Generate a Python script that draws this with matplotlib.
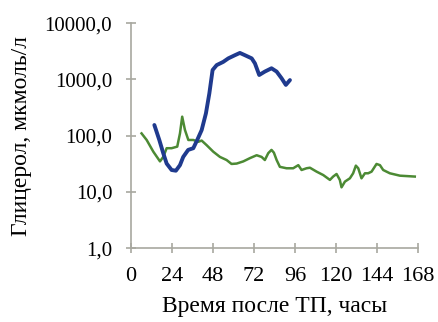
import matplotlib.pyplot as plt
from matplotlib.ticker import FixedLocator, NullLocator

# Глицерол в плазме, мкмоль/л, по времени после ТП (часы)
blue_hours = [13.7, 16.6, 18.9, 20.9, 23.8, 26.3, 28.7, 30.6, 33.5, 36.5, 38.8,
              41.4, 43.9, 45.9, 47.8, 50.2, 54.0, 57.0, 60.9, 63.8, 66.7, 70.7,
              72.6, 75.1, 78.4, 82.3, 85.3, 88.2, 90.7, 93.1]
blue_values = [155, 84, 49, 32, 24.6, 23.9, 30, 42, 56, 60, 84,
               126, 250, 565, 1470, 1800, 2050, 2370, 2700, 2960, 2700, 2370,
               1930, 1200, 1380, 1580, 1380, 1050, 800, 975]

green_hours = [6.2, 9.2, 13.1, 17.0, 18.9, 20.9, 23.8, 27.1, 28.7, 30.0, 31.6,
               33.6, 36.5, 39.4, 41.4, 44.3, 48.2, 52.1, 56.0, 58.9, 61.9, 65.8,
               69.7, 73.6, 76.5, 78.4, 80.4, 82.3, 83.7, 85.3, 87.2, 91.1, 95.0,
               98.0, 99.9, 102.8, 104.8, 108.7, 112.6, 116.5, 118.4, 120.4, 122.3,
               123.3, 125.3, 128.2, 130.1, 131.7, 133.1, 135.0, 137.0, 138.9,
               140.9, 143.8, 145.8, 147.7, 151.6, 157.5, 166.2]
green_values = [110, 84, 52, 35, 42, 60, 60, 64, 110, 218, 127,
                84, 84, 78, 82, 68, 52, 42, 37, 31.5, 32, 35,
                40, 45, 42, 37, 49, 56, 50, 37, 28, 26.4, 26.4,
                30, 24.6, 26.4, 27, 23, 20, 16.4, 18.8, 20.9, 16.4,
                12.1, 15.3, 17.5, 21.5, 29.4, 26.4, 17.5, 21.5, 21.5,
                23, 31.5, 30, 24.6, 21.5, 19.5, 18.8]

x_ticks = [0, 24, 48, 72, 96, 120, 144, 168]
y_ticks = [1, 10, 100, 1000, 10000]
y_tick_labels = ['1,0', '10,0', '100,0', '1000,0', '10000,0']

plt.rcParams['font.family'] = ['Liberation Serif', 'DejaVu Serif']

fig = plt.figure(figsize=(4.38, 3.22), dpi=100)
ax = fig.add_axes([0.299, 0.229, 0.655, 0.699])

ax.plot(green_hours, green_values, color='#4c8a34', linewidth=1.8,
        solid_joinstyle='round', zorder=2)
ax.plot(blue_hours, blue_values, color='#1f3a8e', linewidth=2.8,
        solid_joinstyle='round', solid_capstyle='round', zorder=3)

ax.set_yscale('log')
ax.set_xlim(0, 168)
ax.set_ylim(1, 10000)
ax.xaxis.set_major_locator(FixedLocator(x_ticks))
ax.yaxis.set_major_locator(FixedLocator(y_ticks))
ax.yaxis.set_minor_locator(NullLocator())
ax.set_yticklabels(y_tick_labels)

for side in ['top', 'right']:
    ax.spines[side].set_visible(False)
for side in ['left', 'bottom']:
    ax.spines[side].set_color('#a8a8a0')
    ax.spines[side].set_linewidth(1.2)

ax.tick_params(axis='both', direction='inout', length=7, width=1.2,
               color='#a8a8a0')
ax.tick_params(axis='x', pad=10, labelsize=16)
ax.tick_params(axis='y', pad=10, labelsize=15)

ax.set_xlabel('Время после ТП, часы', fontsize=17, labelpad=7)
ax.set_ylabel('Глицерол, мкмоль/л', fontsize=17, labelpad=9)

fig.savefig('out.png', dpi=100)
